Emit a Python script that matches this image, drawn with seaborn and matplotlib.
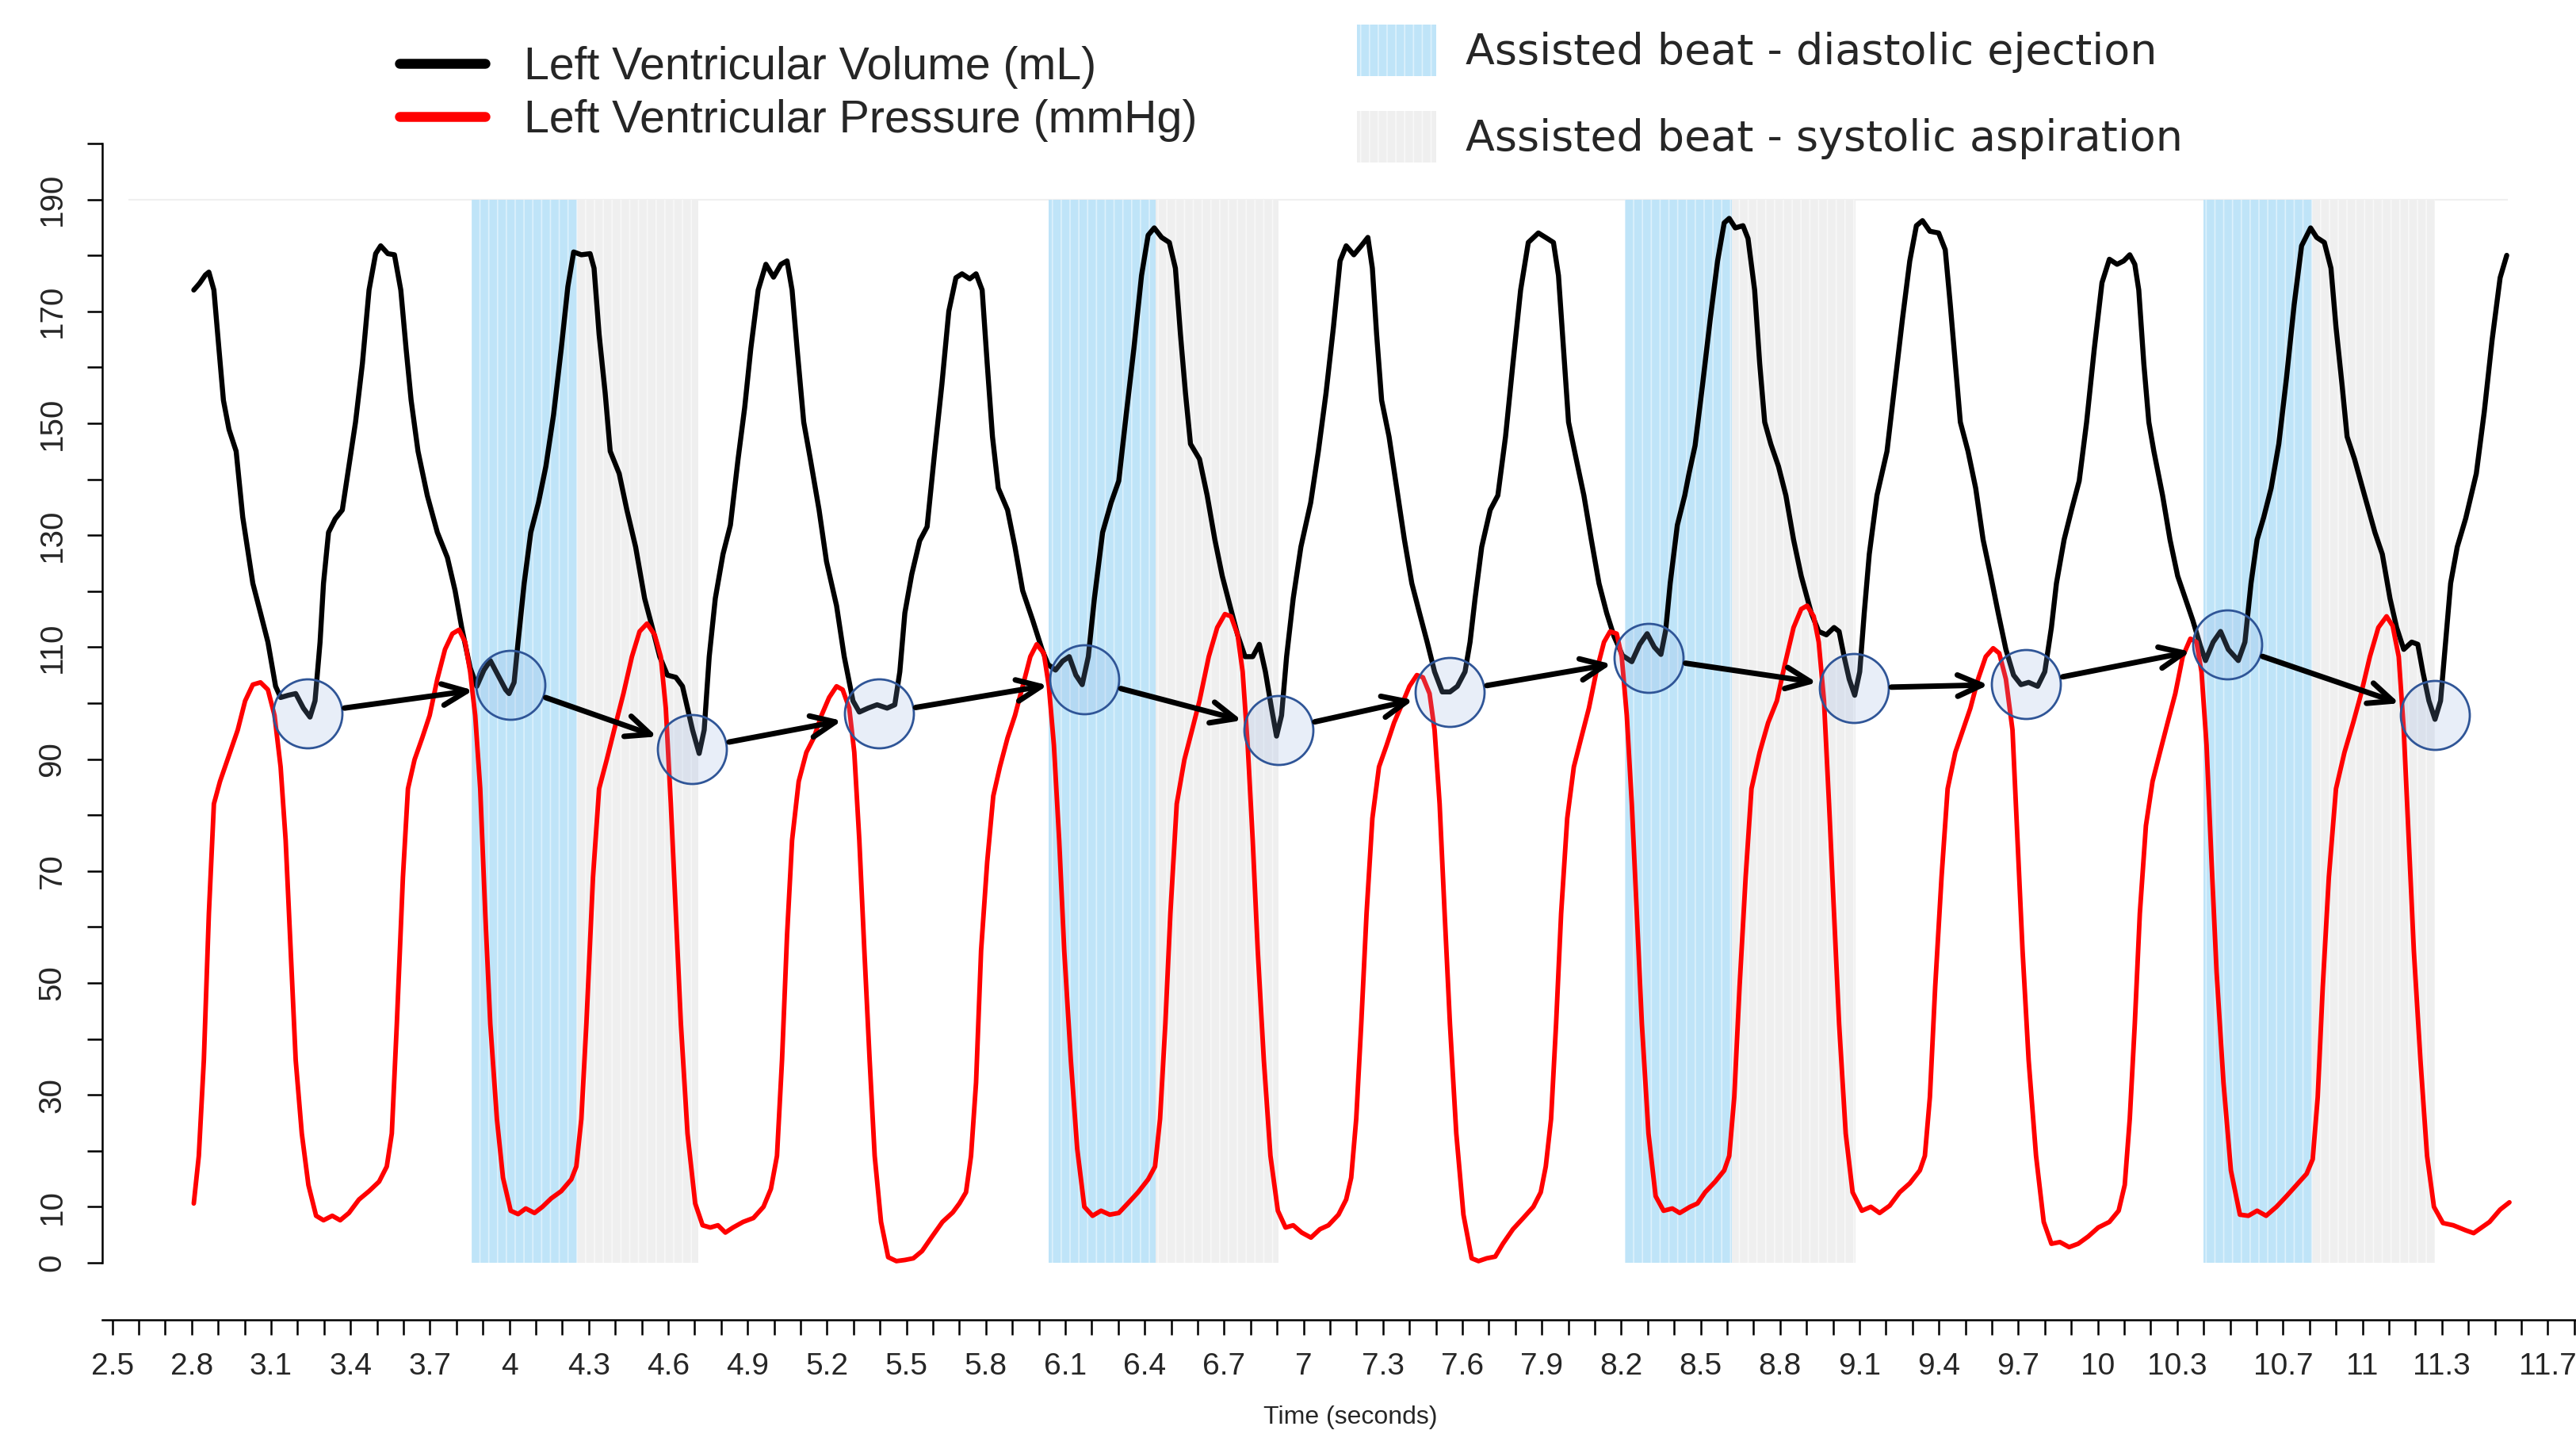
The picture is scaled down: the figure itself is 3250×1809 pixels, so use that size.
import numpy as np
import pandas as pd
import matplotlib.pyplot as plt
import seaborn as sns
from matplotlib.ticker import FixedLocator

# volume trace (mL)
vol_time = [2.808, 2.83, 2.852, 2.865, 2.884, 2.903, 2.92, 2.941, 2.968, 2.993, 3.031, 3.06, 3.088, 3.117,
            3.136, 3.165, 3.193, 3.222, 3.247, 3.266, 3.285, 3.298, 3.317, 3.342, 3.369, 3.394, 3.419, 3.445,
            3.47, 3.495, 3.514, 3.541, 3.566, 3.59, 3.61, 3.629, 3.655, 3.69, 3.728, 3.766, 3.795, 3.82,
            3.852, 3.877, 3.904, 3.928, 3.957, 3.986, 3.999, 4.018, 4.033, 4.056, 4.081, 4.11, 4.138, 4.167,
            4.196, 4.221, 4.243, 4.272, 4.305, 4.32, 4.339, 4.362, 4.381, 4.415, 4.444, 4.477, 4.511, 4.54,
            4.568, 4.597, 4.629, 4.654, 4.673, 4.692, 4.717, 4.736, 4.755, 4.778, 4.807, 4.835, 4.864, 4.889,
            4.912, 4.94, 4.969, 4.998, 5.026, 5.049, 5.068, 5.087, 5.112, 5.137, 5.17, 5.198, 5.236, 5.265,
            5.298, 5.322, 5.355, 5.389, 5.427, 5.456, 5.475, 5.494, 5.52, 5.55, 5.578, 5.607, 5.634, 5.66,
            5.687, 5.71, 5.739, 5.763, 5.786, 5.805, 5.825, 5.847, 5.882, 5.91, 5.939, 5.977, 6.012, 6.035,
            6.063, 6.09, 6.115, 6.14, 6.164, 6.187, 6.21, 6.241, 6.273, 6.302, 6.33, 6.359, 6.388, 6.413,
            6.436, 6.464, 6.493, 6.516, 6.535, 6.554, 6.573, 6.607, 6.636, 6.665, 6.693, 6.722, 6.751, 6.779,
            6.808, 6.833, 6.856, 6.879, 6.898, 6.917, 6.936, 6.961, 6.99, 7.027, 7.056, 7.085, 7.113, 7.138,
            7.161, 7.19, 7.218, 7.243, 7.26, 7.276, 7.295, 7.323, 7.352, 7.381, 7.409, 7.438, 7.467, 7.495,
            7.524, 7.553, 7.581, 7.61, 7.629, 7.648, 7.673, 7.705, 7.734, 7.763, 7.791, 7.82, 7.849, 7.887,
            7.921, 7.944, 7.963, 7.982, 8.001, 8.03, 8.059, 8.087, 8.116, 8.145, 8.173, 8.205, 8.24, 8.27,
            8.298, 8.325, 8.35, 8.368, 8.385, 8.412, 8.44, 8.456, 8.479, 8.507, 8.536, 8.564, 8.589, 8.608,
            8.631, 8.66, 8.679, 8.704, 8.723, 8.742, 8.765, 8.794, 8.822, 8.851, 8.88, 8.918, 8.946, 8.975,
            9.004, 9.023, 9.042, 9.061, 9.082, 9.101, 9.118, 9.137, 9.166, 9.204, 9.233, 9.262, 9.29, 9.315,
            9.338, 9.366, 9.399, 9.424, 9.443, 9.462, 9.481, 9.51, 9.539, 9.567, 9.596, 9.624, 9.653, 9.682,
            9.71, 9.739, 9.773, 9.8, 9.825, 9.844, 9.873, 9.901, 9.93, 9.958, 9.987, 10.016, 10.044, 10.073,
            10.098, 10.121, 10.14, 10.155, 10.174, 10.193, 10.212, 10.245, 10.273, 10.302, 10.331, 10.359,
            10.388, 10.407, 10.436, 10.464, 10.493, 10.531, 10.556, 10.579, 10.602, 10.627, 10.655, 10.684,
            10.713, 10.742, 10.77, 10.804, 10.827, 10.856, 10.881, 10.9, 10.923, 10.942, 10.97, 11.008,
            11.047, 11.075, 11.104, 11.129, 11.156, 11.186, 11.209, 11.228, 11.251, 11.274, 11.295, 11.314,
            11.333, 11.358, 11.39, 11.43, 11.46, 11.49, 11.52, 11.545]
vol_ml = [173.8, 175, 176.5, 177, 173.8, 163.3, 154.1, 148.9, 145, 133.2, 121.4, 116.1, 110.9, 103,
          101, 101.4, 101.7, 99.1, 97.5, 100.4, 110.9, 121.4, 130.5, 132.9, 134.5, 142.3, 150.2, 160.7,
          173.8, 180.3, 181.7, 180.3, 180.1, 173.8, 163.3, 154.1, 145, 137.1, 130.5, 126, 120.1, 113.5,
          106.3, 103, 105.9, 107.6, 105, 102.4, 101.7, 103.7, 110.9, 121.4, 130.5, 135.8, 142.3, 151.5,
          163.3, 174.4, 180.6, 180.1, 180.3, 177.7, 165.9, 155.4, 145, 141, 134.5, 127.9, 118.7, 113.5,
          108.3, 105, 104.6, 103, 99.1, 95.2, 91, 95.2, 108.3, 118.7, 126.6, 131.8, 143.6, 152.8,
          163.3, 173.8, 178.4, 176.1, 178.4, 179, 173.8, 163.3, 150.2, 143.6, 134.5, 125.3, 117.4, 108.3,
          100.4, 98.4, 99.1, 99.7, 99.1, 99.7, 105.6, 116.1, 123, 129, 131.5, 145, 157, 170,
          176, 176.7, 175.8, 176.7, 173.8, 160.7, 147.6, 138.4, 134.5, 127.9, 120.1, 114.8, 109.6, 106.9,
          105.9, 107.5, 108.3, 105, 103.3, 108.3, 118.7, 130.5, 135.8, 139.7, 151.5, 163.3, 176.4, 183.6,
          184.9, 183.2, 182.3, 177.7, 165.9, 155.4, 146.3, 143.6, 137.1, 129.2, 122.7, 117.4, 112.2, 108.3,
          108.3, 110.5, 105.6, 99.1, 94.1, 97.8, 108.3, 118.7, 127.9, 135.8, 145, 155.4, 167.2, 179,
          181.7, 180.1, 181.7, 183.2, 177.7, 165.9, 154.1, 147.6, 138.4, 129.2, 121.4, 116.1, 110.9, 105.6,
          102, 102, 103, 105.6, 110.9, 118.7, 127.9, 134.5, 137.1, 147.6, 160.7, 173.8, 182.3, 184,
          183, 182.3, 176.4, 163.3, 150.2, 143.6, 137.1, 129.2, 121.4, 116.1, 111.9, 108.5, 107.4, 110.5,
          112.4, 110, 108.7, 113, 121.4, 131.8, 137.1, 141, 146, 156.8, 168.5, 179, 185.8, 186.6,
          184.9, 185.3, 183, 173.8, 160.7, 150.2, 146.3, 142.3, 137.1, 129.2, 122.7, 116.1, 112.8, 112.2,
          113.5, 112.8, 108.3, 104.3, 101.4, 105.6, 116.1, 126.6, 137.1, 145, 156.8, 168.5, 179, 185.3,
          186.2, 184.3, 184, 181, 171.2, 160.7, 150.2, 145, 138.4, 129.2, 122.7, 116.1, 109.6, 105,
          103.3, 103.7, 103, 105.6, 113.5, 121.4, 129.2, 134.5, 139.7, 150.2, 163.3, 175.1, 179.3, 178.4,
          179, 180.1, 178.4, 173.8, 160.7, 150.2, 145, 137.1, 129.2, 122.7, 118.7, 114.8,
          110.2, 107.6, 110.9, 112.8, 109.6, 107.6, 110.9, 121.4, 129.2, 133.2, 138.4, 146.3,
          158.1, 171.2, 181.7, 184.9, 183.2, 182.3, 177.7, 167.2, 156.8, 147.6, 143.6, 137.1,
          130.5, 126.6, 118.7, 113.5, 109.6, 110.9, 110.5, 105.6, 100.4, 97.1, 100.4, 110.9,
          121.4, 127.9, 133, 141, 152, 165, 176, 180]

# pressure trace (mmHg)
prs_time = [2.808, 2.827, 2.846, 2.865, 2.884, 2.907, 2.926, 2.945, 2.974, 3.002, 3.031, 3.06, 3.088,
            3.113, 3.136, 3.155, 3.174, 3.193, 3.216, 3.241, 3.27, 3.298, 3.331, 3.361, 3.394, 3.432, 3.47,
            3.508, 3.537, 3.556, 3.575, 3.598, 3.617, 3.642, 3.671, 3.699, 3.728, 3.757, 3.785, 3.81, 3.833,
            3.852, 3.871, 3.89, 3.909, 3.928, 3.953, 3.976, 4.005, 4.033, 4.062, 4.095, 4.125, 4.158, 4.196,
            4.234, 4.253, 4.272, 4.291, 4.316, 4.339, 4.368, 4.396, 4.431, 4.463, 4.492, 4.52, 4.549, 4.572,
            4.591, 4.61, 4.629, 4.648, 4.673, 4.702, 4.73, 4.759, 4.788, 4.816, 4.845, 4.883, 4.922, 4.96,
            4.988, 5.011, 5.03, 5.049, 5.068, 5.093, 5.122, 5.15, 5.179, 5.208, 5.236, 5.259, 5.284, 5.303,
            5.322, 5.341, 5.361, 5.38, 5.404, 5.431, 5.462, 5.494, 5.526, 5.559, 5.597, 5.636, 5.675, 5.7,
            5.725, 5.744, 5.763, 5.782, 5.805, 5.828, 5.853, 5.882, 5.91, 5.939, 5.968, 5.992, 6.019, 6.038,
            6.057, 6.077, 6.096, 6.121, 6.145, 6.172, 6.203, 6.235, 6.268, 6.302, 6.336, 6.375, 6.413, 6.439,
            6.458, 6.478, 6.497, 6.521, 6.55, 6.579, 6.607, 6.642, 6.674, 6.703, 6.726, 6.751, 6.77, 6.789,
            6.808, 6.827, 6.85, 6.875, 6.903, 6.932, 6.961, 6.993, 7.028, 7.062, 7.094, 7.132, 7.161, 7.18,
            7.199, 7.218, 7.238, 7.26, 7.285, 7.314, 7.342, 7.371, 7.4, 7.428, 7.451, 7.476, 7.495, 7.514,
            7.533, 7.553, 7.577, 7.604, 7.635, 7.661, 7.692, 7.724, 7.753, 7.791, 7.83, 7.868, 7.896, 7.915,
            7.935, 7.954, 7.973, 7.996, 8.021, 8.049, 8.078, 8.106, 8.135, 8.158, 8.183, 8.202, 8.221, 8.24,
            8.259, 8.278, 8.303, 8.33, 8.36, 8.393, 8.421, 8.46, 8.488, 8.517, 8.555, 8.589, 8.608, 8.627,
            8.647, 8.67, 8.692, 8.723, 8.755, 8.788, 8.818, 8.851, 8.88, 8.902, 8.927, 8.946, 8.966, 8.985,
            9.004, 9.023, 9.048, 9.074, 9.109, 9.143, 9.176, 9.214, 9.252, 9.29, 9.328, 9.347, 9.366, 9.386,
            9.41, 9.433, 9.462, 9.491, 9.519, 9.548, 9.577, 9.605, 9.628, 9.653, 9.678, 9.697, 9.716, 9.739,
            9.767, 9.796, 9.825, 9.857, 9.892, 9.926, 9.964, 10.002, 10.044, 10.079, 10.102, 10.121, 10.14,
            10.159, 10.182, 10.207, 10.235, 10.264, 10.293, 10.321, 10.35, 10.373, 10.392, 10.411, 10.43,
            10.449, 10.475, 10.503, 10.537, 10.569, 10.602, 10.636, 10.675, 10.713, 10.751, 10.789, 10.812,
            10.831, 10.85, 10.873, 10.9, 10.932, 10.965, 10.995, 11.028, 11.06, 11.091, 11.114, 11.137,
            11.156, 11.175, 11.194, 11.219, 11.244, 11.27, 11.304, 11.343, 11.39, 11.42, 11.48, 11.52, 11.555]
prs_mmhg = [10.6, 19.1, 36.2, 62.4, 82, 86, 88.6, 91.2, 95.2, 100.4, 103.3, 103.7, 102.4,
            97.8, 88.6, 75.5, 55.8, 36.2, 23.1, 13.9, 8.4, 7.6, 8.4, 7.6, 8.9, 11.3, 12.8,
            14.5, 17.2, 23.1, 42.7, 68.9, 84.7, 89.9, 93.8, 97.8, 104.3, 109.6, 112.4, 113.1, 110.9,
            105.6, 97.8, 84.7, 62.4, 42.7, 25.7, 15.2, 9.3, 8.7, 9.7, 8.9, 10, 11.5, 12.8,
            14.9, 17.2, 25.7, 42.7, 68.9, 84.7, 89.9, 95.2, 101.7, 108.3, 112.8, 114.2, 112.2, 108.3,
            99.1, 82, 62.4, 42.7, 23.1, 10.6, 6.7, 6.3, 6.7, 5.4, 6.3, 7.3, 8, 10,
            13.2, 19.1, 36.2, 58.5, 75.5, 86, 91.2, 93.8, 97.8, 101, 103, 102.4, 99.1, 91.2,
            75.5, 55.8, 36.2, 19.1, 7.3, 1, 0.3, 0.5, 0.8, 2.1, 4.7, 7.3, 9, 10.6,
            12.6, 19.1, 32.2, 55.8, 71.6, 83.4, 88.6, 93.8, 97.8, 103, 108.3, 110.5, 108.9, 103,
            92.5, 75.5, 55.8, 36.2, 20.4, 10, 8.4, 9.3, 8.6, 8.9, 10.6, 12.6, 14.9, 17.2,
            25.7, 42.7, 62.4, 82, 89.9, 95.2, 100.4, 108.3, 113.5, 115.9, 115.5, 112.2, 105.6, 92.5,
            75.5, 55.8, 36.2, 19.1, 9.3, 6.3, 6.7, 5.4, 4.5, 6, 6.7, 8.6, 11.3, 15.2,
            25.7, 42.7, 62.4, 79.4, 88.6, 92.5, 96.5, 99.7, 103, 105, 104.6, 101.7, 95.2, 82,
            62.4, 42.7, 23.1, 8.6, 0.8, 0.3, 0.8, 1.1, 3.4, 6, 8, 10, 12.6, 17.2,
            25.7, 42.7, 62.4, 79.4, 88.6, 93.8, 99.1, 105.6, 110.9, 112.8, 112.4, 108.3, 97.8, 82,
            62.4, 42.7, 23.1, 11.9, 9.3, 9.7, 8.9, 10, 10.6, 12.6, 14.5, 16.5, 19.1, 29.6,
            49.3, 68.9, 84.7, 91.2, 96.5, 100.4, 106.9, 113.5, 116.8, 117.4, 115.5, 110.9, 100.4, 82,
            62.4, 42.7, 23.1, 12.6, 9.3, 10, 8.9, 10.2, 12.6, 14.2, 16.5, 19.1, 29.6, 49.3,
            68.9, 84.7, 91.2, 95.2, 99.1, 104.3, 108.3, 109.8, 108.9, 104.3, 95.2, 75.5, 55.8, 36.2,
            19.1, 7.3, 3.4, 3.7, 2.8, 3.4, 4.7, 6.3, 7.3, 9.3, 13.9, 25.7, 42.7,
            62.4, 78.1, 86, 91.2, 96.5, 101.7, 108.3, 111.5, 110.9, 105.6, 92.5, 71.6,
            51.9, 32.2, 16.5, 8.6, 8.4, 9.3, 8.4, 10, 11.9, 13.9, 15.9, 18.5,
            29.6, 49.3, 68.9, 84.7, 91.2, 96.5, 101.7, 108.3, 113.5, 115.5, 113.8, 108.3,
            95.2, 75.5, 55.8, 36.2, 19.1, 10, 7.1, 6.7, 5.8, 5.3, 7.3, 9.5, 10.8]

# assisted beats: diastolic ejection then systolic aspiration
diast_start = [3.858, 6.036, 8.215, 10.400]
diast_end = [4.255, 6.440, 8.619, 10.810]
syst_end = [4.714, 6.905, 9.084, 11.275]

# end-diastolic points that get circled
mark_time = [3.237, 4.004, 4.691, 5.395, 6.173, 6.904, 7.553, 8.303, 9.079, 9.729, 10.489, 11.273]
mark_vol = [98.2, 103.2, 91.8, 98.1, 104.3, 95.2, 102.0, 108.1, 102.7, 103.4, 110.5, 97.8]

x_labels = [2.5, 2.8, 3.1, 3.4, 3.7, 4, 4.3, 4.6, 4.9, 5.2, 5.5, 5.8, 6.1, 6.4, 6.7, 7, 7.3, 7.6,
            7.9, 8.2, 8.5, 8.8, 9.1, 9.4, 9.7, 10, 10.3, 10.7, 11, 11.3, 11.7]
y_labels = [0, 10, 30, 50, 70, 90, 110, 130, 150, 170, 190]

df_vol = pd.DataFrame({"time": vol_time, "value": vol_ml})
df_prs = pd.DataFrame({"time": prs_time, "value": prs_mmhg})

sns.set_theme(style="ticks")
plt.rcParams['font.family'] = ['Liberation Sans', 'DejaVu Sans']
plt.rcParams['hatch.linewidth'] = 0.6

fig = plt.figure(figsize=(16.25, 9.045), dpi=200)
ax = fig.add_axes([0.0397, 0.1194, 0.9603, 0.7806])

# shaded assisted-beat phases
span_d = span_s = None
for a, b, c in zip(diast_start, diast_end, syst_end):
    span_d = ax.axvspan(a, b, ymin=0, ymax=0.95, facecolor='#BFE4F8', edgecolor='#DDF1FC',
                        hatch='|||', linewidth=0, zorder=0.6)
    span_s = ax.axvspan(b, c, ymin=0, ymax=0.95, facecolor='#EFEFEF', edgecolor='#F8F8F8',
                        hatch='|||', linewidth=0, zorder=0.6)
ax.hlines(190, 2.56, 11.55, color='#F0F0F0', lw=0.8, zorder=0.5)

sns.lineplot(data=df_vol, x="time", y="value", ax=ax, color='black', lw=2.3,
             estimator=None, sort=False, legend=False, zorder=2)
sns.lineplot(data=df_prs, x="time", y="value", ax=ax, color='#FF0000', lw=2.1,
             estimator=None, sort=False, legend=False, zorder=2.1)
for ln in ax.lines:
    ln.set_clip_on(False)
    ln.set_solid_joinstyle('round')
    ln.set_solid_capstyle('round')
l_vol, l_prs = ax.lines[0], ax.lines[1]

# circles and arrows
ax.scatter(mark_time, mark_vol, s=981, facecolor=(0.55, 0.68, 0.88, 0.2),
           edgecolor='#2F5597', linewidth=1.0, zorder=4)
for i in range(len(mark_time) - 1):
    ax.annotate('', xy=(mark_time[i + 1], mark_vol[i + 1]), xytext=(mark_time[i], mark_vol[i]),
                arrowprops=dict(arrowstyle='->,head_length=0.5,head_width=0.22', lw=2.5,
                                color='black', shrinkA=17, shrinkB=17, mutation_scale=22),
                zorder=5)

# axes, R-like
ax.set_xlim(2.4623, 11.8066)
ax.set_ylim(0, 200)
sns.despine(ax=ax)
ax.spines['bottom'].set_position(('outward', 26))
ax.spines['bottom'].set_bounds(2.4623, 11.8066)
ax.spines['left'].set_bounds(0, 200)
for sp in ['left', 'bottom']:
    ax.spines[sp].set_linewidth(0.9)
    ax.spines[sp].set_color('black')

ax.xaxis.set_major_locator(FixedLocator(x_labels))
ax.xaxis.set_minor_locator(FixedLocator(np.arange(25, 119) / 10))
ax.set_xticklabels([f"{v:g}" for v in x_labels])
ax.yaxis.set_major_locator(FixedLocator(y_labels))
ax.yaxis.set_minor_locator(FixedLocator(np.arange(0, 201, 10)))
ax.set_yticklabels([str(v) for v in y_labels])
ax.tick_params(axis='both', which='both', direction='out', length=7, width=0.9, color='black')
ax.tick_params(axis='x', which='major', labelsize=14, pad=7.5)
ax.tick_params(axis='y', which='major', labelsize=14.5, pad=9)
plt.setp(ax.get_yticklabels(), rotation=90, va='center', ha='right')

ax.set_xlabel("Time (seconds)", fontsize=11.5)
ax.set_ylabel("")
ax.xaxis.set_label_coords(0.5046, -0.138)
ax.xaxis.label.set_va('center')

leg1 = fig.legend(handles=[l_vol, l_prs],
                  labels=["Left Ventricular Volume (mL)", "Left Ventricular Pressure (mmHg)"],
                  loc='upper left', bbox_to_anchor=(0.155, 0.968), frameon=False, fontsize=20.6,
                  handlelength=1.9, handletextpad=0.84, labelspacing=0.23,
                  borderpad=0, borderaxespad=0)
for ln in leg1.get_lines():
    ln.set_linewidth(4.5)
    ln.set_solid_capstyle('round')

leg2 = fig.legend(handles=[span_d, span_s],
                  labels=["Assisted beat - diastolic ejection", "Assisted beat - systolic aspiration"],
                  loc='upper left', bbox_to_anchor=(0.5268, 0.983), frameon=False,
                  prop={'family': 'DejaVu Sans', 'size': 19.4},
                  handlelength=1.85, handleheight=1.5, handletextpad=0.69, labelspacing=0.8,
                  borderpad=0, borderaxespad=0)

fig.savefig("out.png", dpi=200)
